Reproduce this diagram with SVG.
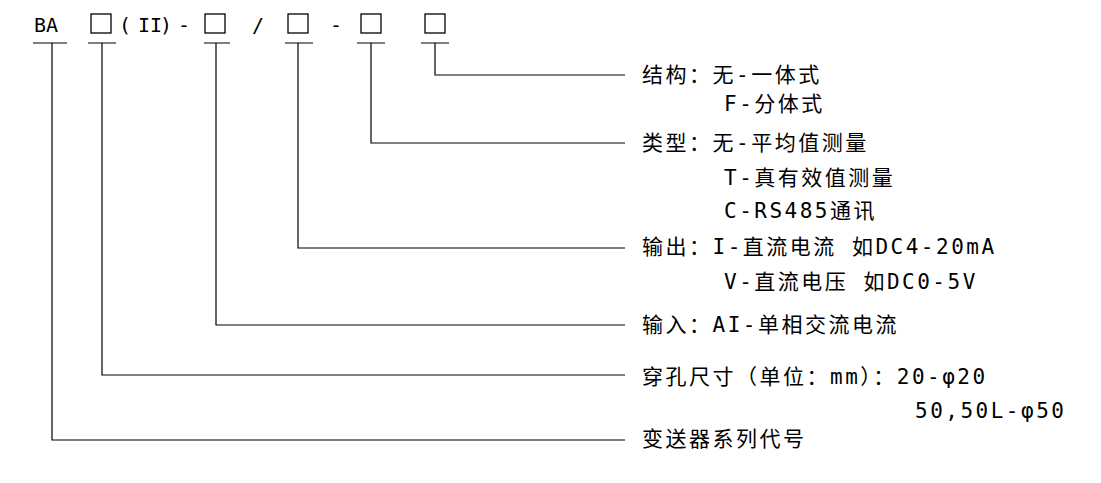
<svg xmlns="http://www.w3.org/2000/svg" width="1101" height="483" viewBox="0 0 1101 483">
<style>
text{font-family:"DejaVu Sans Mono","Noto Sans CJK SC",monospace;font-size:21px;letter-spacing:2.5px;fill:#000}
.h{letter-spacing:0;font-size:20px}
.c{fill:none;stroke:#000;stroke-width:1.2}
.b{fill:none;stroke:#000;stroke-width:1.3}
</style>
<rect width="1101" height="483" fill="#fff"/>
<g id="header">
<text class="h" x="34" y="32">BA</text>
<rect class="b" x="91" y="14" width="20" height="19"/>
<text class="h" x="119" y="32">(</text><text class="h" x="138" y="32">II</text><text class="h" x="160" y="32">)</text><text class="h" x="178" y="32">-</text>
<rect class="b" x="205" y="14" width="20" height="19"/>
<text class="h" x="252" y="32">/</text>
<rect class="b" x="288" y="14" width="20" height="19"/>
<text class="h" x="330" y="32">-</text>
<rect class="b" x="361" y="14" width="20" height="19"/>
<rect class="b" x="425" y="14" width="20" height="19"/>
</g>
<g id="connectors">
<path class="c" d="M33 43H67M52 43V440H625"/>
<path class="c" d="M88 43H116M102 43V375H625"/>
<path class="c" d="M204 43H230M216 43V325H625"/>
<path class="c" d="M285 43H313M298 43V248H625"/>
<path class="c" d="M357 43H385M371 43V143H625"/>
<path class="c" d="M421 43H449M435 43V75H625"/>
</g>
<g id="n1"><text x="642" y="82">结构：无-一体式</text><text x="724" y="111">F-分体式</text></g>
<g id="n2"><text x="642" y="150">类型：无-平均值测量</text><text x="724" y="185">T-真有效值测量</text><text x="724" y="218">C-RS485通讯</text></g>
<g id="n3"><text x="642" y="254">输出：I-直流电流 如DC4-20mA</text><text x="724" y="289">V-直流电压 如DC0-5V</text></g>
<g id="n4"><text x="642" y="332">输入：AI-单相交流电流</text></g>
<g id="n5"><text x="642" y="384">穿孔尺寸（单位：mm）：20-φ20</text><text x="915" y="418">50,50L-φ50</text></g>
<g id="n6"><text x="642" y="446">变送器系列代号</text></g>
</svg>
